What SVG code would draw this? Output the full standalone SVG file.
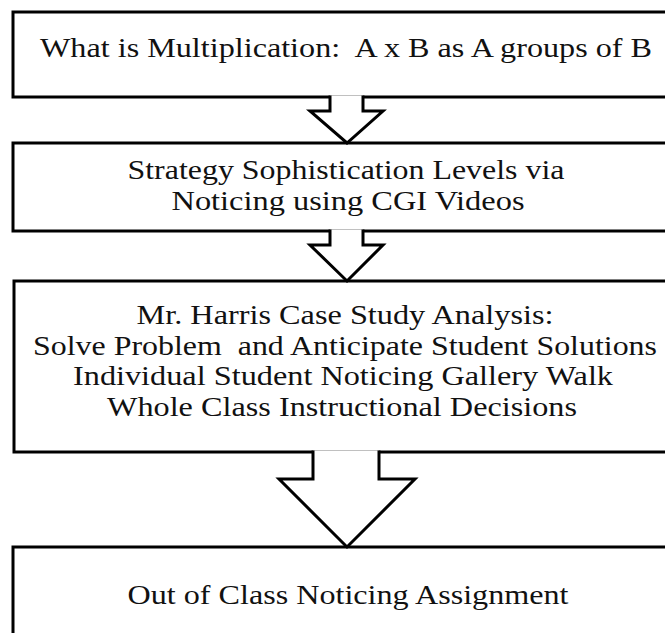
<svg xmlns="http://www.w3.org/2000/svg" width="665" height="633" viewBox="0 0 665 633">
<style>
.box{fill:#fff;stroke:#000;stroke-width:3}
.arr{fill:#fff;stroke:#000;stroke-width:3;stroke-linejoin:miter}
text{font-family:"Liberation Serif","Times New Roman",serif;font-size:27.5px;fill:#111;text-anchor:middle}
</style>
<rect width="665" height="633" fill="#fff"/>
<g id="node1">
<rect class="box" x="13" y="12" width="668" height="85"/>
<text x="346" y="57" xml:space="preserve" textLength="612" lengthAdjust="spacingAndGlyphs">What is Multiplication:  A x B as A groups of B</text>
</g>
<g id="node2">
<rect class="box" x="13" y="143" width="668" height="88"/>
<text x="346" y="179" textLength="437" lengthAdjust="spacingAndGlyphs">Strategy Sophistication Levels via</text>
<text x="348" y="209.5" textLength="353" lengthAdjust="spacingAndGlyphs">Noticing using CGI Videos</text>
</g>
<g id="node3">
<rect class="box" x="14" y="281" width="667" height="171"/>
<text x="345" y="324" textLength="417" lengthAdjust="spacingAndGlyphs">Mr. Harris Case Study Analysis:</text>
<text x="345" y="354.5" xml:space="preserve" textLength="624" lengthAdjust="spacingAndGlyphs">Solve Problem  and Anticipate Student Solutions</text>
<text x="343" y="385" textLength="540" lengthAdjust="spacingAndGlyphs">Individual Student Noticing Gallery Walk</text>
<text x="342" y="415.5" textLength="470" lengthAdjust="spacingAndGlyphs">Whole Class Instructional Decisions</text>
</g>
<g id="node4">
<rect class="box" x="13" y="547" width="668" height="100"/>
<text x="348" y="604" textLength="441" lengthAdjust="spacingAndGlyphs">Out of Class Noticing Assignment</text>
</g>
<g id="connectors">
<path class="arr" d="M330,95.5 V111 H310 L347,143 L383,111 H363 V95.5"/>
<path class="arr" d="M330,229.5 V245 H310 L347,281 L383,245 H363 V229.5"/>
<path class="arr" d="M313,450.5 V479 H279 L347,547 L415,479 H379 V450.5"/>
</g>
</svg>
